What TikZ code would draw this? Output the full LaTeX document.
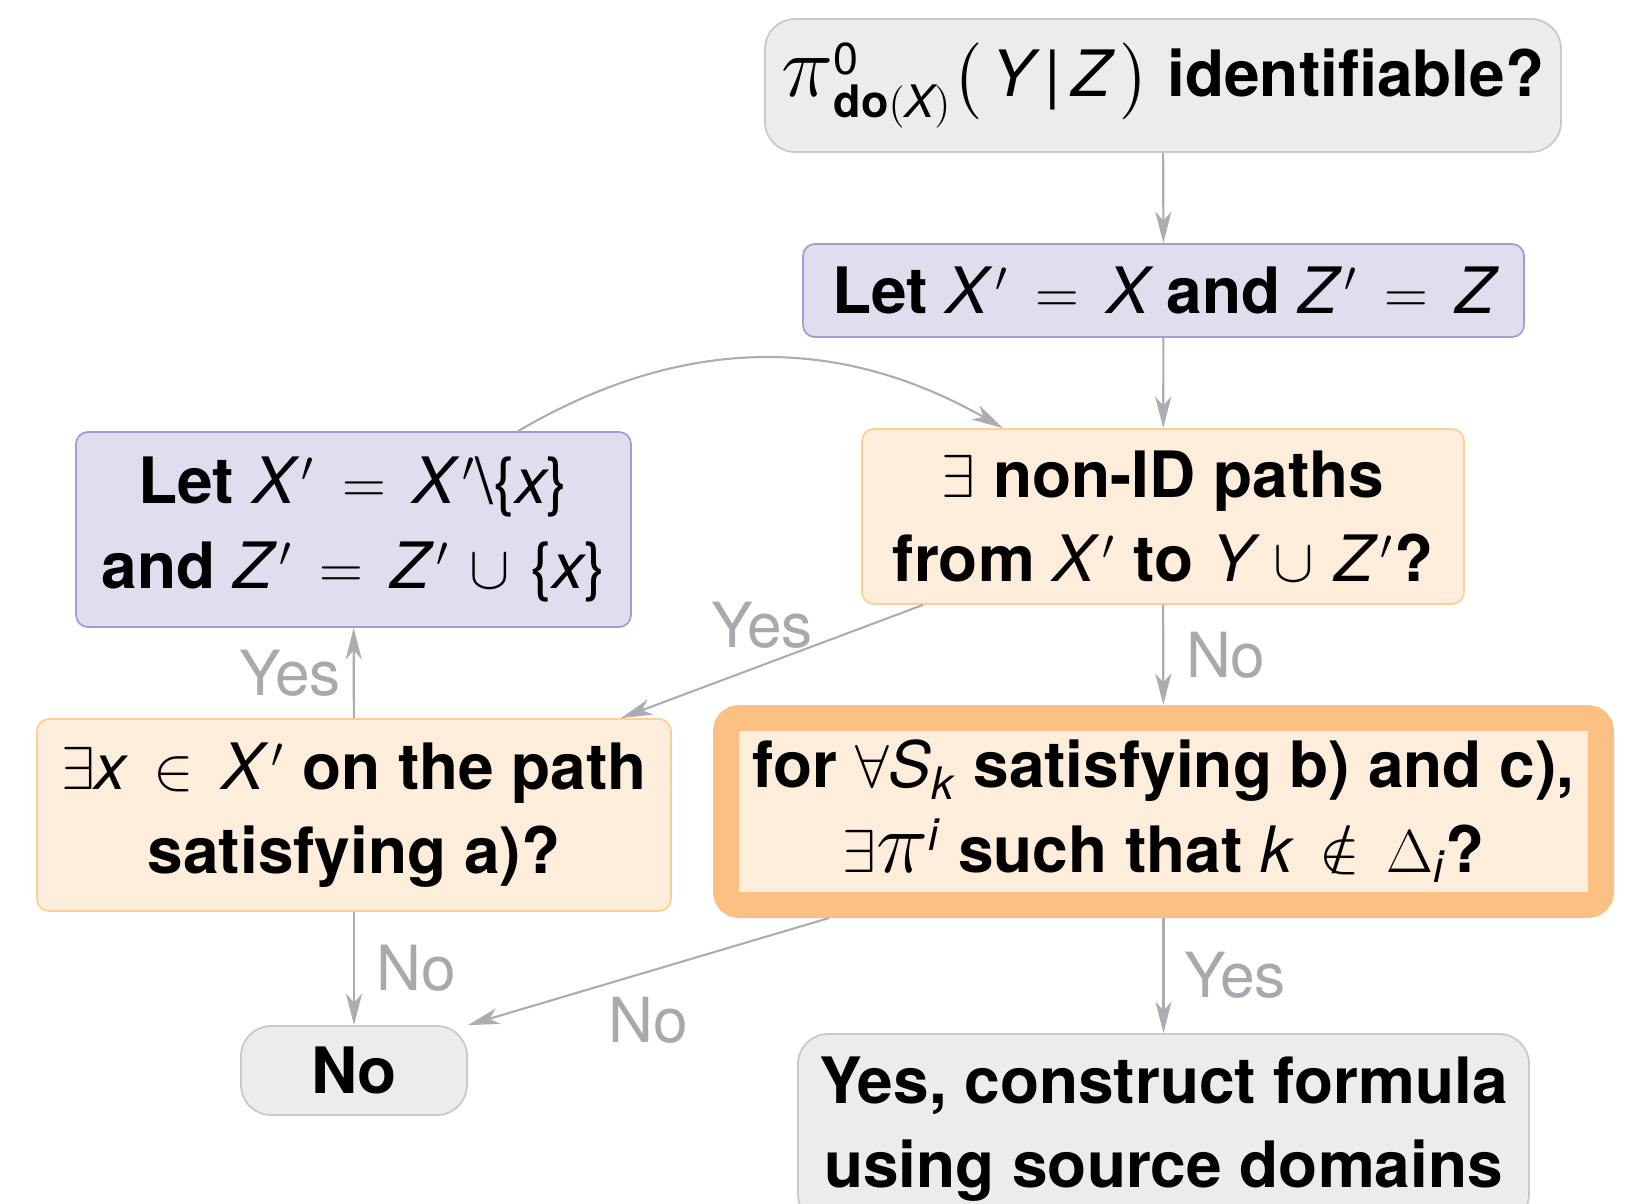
\documentclass[tikz,border=0pt]{standalone}
\usepackage{amsmath, amssymb}
\usepackage{fontspec}
\setmainfont{TeX Gyre Heros}
\usepackage[italic, defaultmathsizes, noequal]{mathastext}
\usepackage{tikz}
\usepackage{xcolor}
\usetikzlibrary{arrows.meta}

\definecolor{grayfill}{HTML}{ECECEC}
\definecolor{grayline}{HTML}{C9C9C9}
\definecolor{purplefill}{HTML}{DFDEEF}
\definecolor{purpleline}{HTML}{A19CD3}
\definecolor{orangefill}{HTML}{FEEDDB}
\definecolor{orangeline}{HTML}{FBCF96}
\definecolor{orangethick}{HTML}{FCC083}
\definecolor{arrowgray}{HTML}{ABADB0}
\definecolor{labelgray}{HTML}{A7A9AC}

\thickmuskip=8mu plus 5mu
\medmuskip=6mu plus 2mu minus 4mu
\newcommand{\bigpi}{\mathord{\scalebox{1.45}{$\pi$}}}
\newcommand{\supzero}{\text{\mdseries 0}}
\newcommand{\Xp}{X^{\,\prime}}
\newcommand{\Zp}{Z^{\,\prime}}

\begin{document}
\begin{tikzpicture}[
    font=\fontsize{18.2}{24}\selectfont\bfseries,
    graybox/.style={draw=grayline, fill=grayfill, rounded corners=0.3cm, line width=0.5pt, align=center, inner sep=2pt},
    purplebox/.style={draw=purpleline, fill=purplefill, rounded corners=0.12cm, line width=0.5pt, align=center, inner sep=2pt},
    orangebox/.style={draw=orangeline, fill=orangefill, rounded corners=0.12cm, line width=0.5pt, align=center, inner sep=2pt},
    arr/.style={-{Stealth[length=9pt, width=4.6pt, inset=2.6pt]}, draw=arrowgray, line width=0.6pt},
    lbl/.style={font=\fontsize{17.7}{22}\selectfont\mdseries, text=labelgray}
]

    \useasboundingbox (0,0) rectangle (16.42,-12.03);

    % Boxes
    \node[graybox, minimum width=7.96cm, minimum height=1.33cm] (ident) at (11.63,-0.855)
        {$\bigpi^{\supzero}_{\textbf{do}(X)}\bigl(\,Y\,|\,Z\,\bigr)$ identifiable?};
    \node[purplebox, minimum width=7.21cm, minimum height=0.93cm] (init) at (11.635,-2.905)
        {Let $\Xp=X$ and $\Zp=Z$};
    \node[orangebox, minimum width=6.02cm, minimum height=1.75cm] (paths) at (11.63,-5.165)
        {$\exists$ non-ID paths\\from $\Xp$ to $Y\cup\Zp$?};
    \node[purplebox, minimum width=5.55cm, minimum height=1.95cm] (update) at (3.535,-5.295)
        {Let $\Xp=\Xp\backslash\{x\}$\\and $\Zp=\Zp\cup\{x\}$};
    \node[orangebox, minimum width=6.34cm, minimum height=1.92cm] (onpath) at (3.54,-8.15)
        {$\exists x\in\Xp$ on the path\\satisfying a)?};
    \node[draw=orangethick, fill=orangefill, line width=0.26cm, rounded corners=0.13cm,
        align=center, minimum width=8.75cm, minimum height=1.87cm] (domains) at (11.635,-8.115)
        {for $\forall S_k$ satisfying b) and c),\\$\exists\bigpi^i$ such that $k\notin\Delta_i$?};
    \node[graybox, minimum width=2.26cm, minimum height=0.89cm] (no) at (3.54,-10.705) {No};
    \node[graybox, minimum width=7.31cm, minimum height=1.9cm] (yes) at (11.635,-11.29)
        {Yes, construct formula\\using source domains};

    % Connectors
    \draw[arr] (ident) -- (init);
    \draw[arr] (init) -- (paths);
    \draw[arr] (paths) -- (domains) node[lbl, midway, right, xshift=1mm] {No};
    \draw[arr] ([xshift=0.62cm]paths.south west) -- ([xshift=-0.51cm]onpath.north east)
        node[lbl, midway, above, xshift=-1mm] {Yes};
    \draw[arr] (onpath) -- (update) node[lbl, midway, left] {Yes};
    \draw[arr] ([xshift=1.645cm]update.north) to[bend left=30] ([xshift=-1.6cm]paths.north);
    \draw[arr] (onpath) -- (no) node[lbl, midway, right, xshift=1mm] {No};
    \draw[arr] ([xshift=1.16cm]domains.south west) -- (no.north east)
        node[lbl, midway, below, yshift=-1.3mm] {No};
    \draw[arr] (domains) -- (yes) node[lbl, midway, right, xshift=0.8mm] {Yes};

\end{tikzpicture}
\end{document}
